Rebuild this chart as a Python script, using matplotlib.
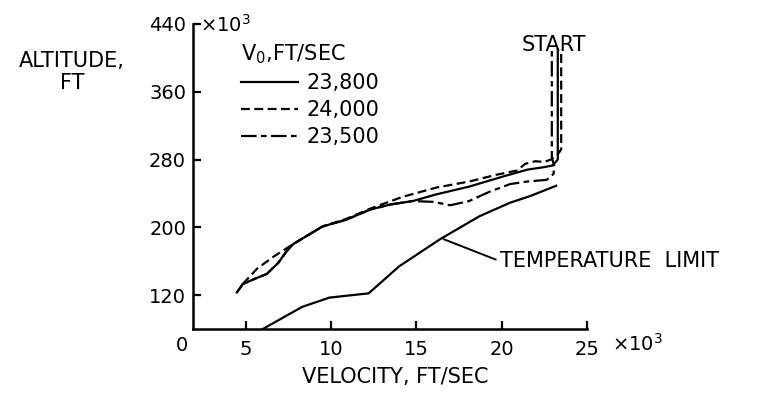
import matplotlib
matplotlib.use("Agg")
from matplotlib import pyplot as plt

# velocity in 10^3 ft/sec, altitude in 10^3 ft
v_23800 = [4.47, 4.82, 5.5, 6.23, 6.9, 7.4, 7.76, 9.5, 10.9, 12.3, 13.5, 14.8,
           16.2, 18.1, 20.1, 21.5, 22.5, 23.0, 23.3, 23.3]
h_23800 = [123, 133, 139, 145, 158, 172, 180, 201, 209, 221, 227, 231,
           239, 248, 260, 268, 271, 273, 280, 410]

v_24000 = [4.82, 5.65, 6.6, 7.76, 9.5, 10.9, 12.3, 14.2, 16.2, 18.1, 19.7,
           20.9, 21.4, 22.0, 22.5, 22.9, 23.3, 23.5, 23.5]
h_24000 = [133, 151, 165, 180, 201, 210, 222, 236, 247, 254, 262,
           267, 275, 278, 277, 280, 286, 292, 410]

v_23500 = [4.47, 4.82, 5.5, 6.23, 6.9, 7.4, 7.76, 9.5, 10.9, 12.3, 13.5, 14.8,
           16.0, 17.0, 18.1, 19.3, 20.5, 21.5, 22.65, 23.05, 23.1, 22.95, 22.95]
h_23500 = [123, 133, 139, 145, 158, 172, 180, 201, 209, 221, 227, 231,
           230, 226, 231, 242, 251, 254, 256, 263, 272, 282, 410]

v_temp = [6.0, 8.3, 9.9, 12.2, 14.0, 16.4, 18.7, 20.5, 21.7, 23.2]
h_temp = [80, 106, 117, 122, 154, 186, 213, 229, 237, 249]

x_ticks = [5, 10, 15, 20, 25]
y_ticks = [120, 200, 280, 360, 440]

fs = 14      # tick labels
fl = 15      # other lettering
plt.rcParams['font.family'] = 'DejaVu Sans'
plt.rcParams['mathtext.default'] = 'regular'

fig = plt.figure(figsize=(7.66, 3.93), dpi=100)
ax = fig.add_axes([0.252, 0.163, 0.514, 0.776])

lw = 1.6
ax.plot(v_23500, h_23500, color='black', lw=lw, dashes=(7, 2, 2.5, 2), label='23,500')
ax.plot(v_24000, h_24000, color='black', lw=lw, dashes=(4, 2), label='24,000')
ax.plot(v_23800, h_23800, color='black', lw=lw, label='23,800')
ax.plot(v_temp, h_temp, color='black', lw=lw)

ax.set_xlim(1.9, 25)
ax.set_ylim(80, 440)
ax.set_xticks(x_ticks)
ax.set_xticklabels([str(t) for t in x_ticks])
ax.set_yticks(y_ticks)
ax.set_yticklabels([str(t) for t in y_ticks])
ax.tick_params(direction='in', length=6, width=1.6, labelsize=fs, pad=5)
ax.tick_params(axis='x', pad=8)
for side in ['top', 'right']:
    ax.spines[side].set_visible(False)
for side in ['left', 'bottom']:
    ax.spines[side].set_linewidth(1.8)

handles, labels = ax.get_legend_handles_labels()
order = [2, 1, 0]
leg = ax.legend([handles[i] for i in order], [labels[i] for i in order],
                title='$V_0$,FT/SEC', loc='upper left', bbox_to_anchor=(0.095, 0.975),
                frameon=False, fontsize=fl, title_fontsize=fl, handlelength=2.75,
                handletextpad=0.4, labelspacing=0.35, borderpad=0)
leg._legend_box.align = 'left'

ax.text(23.1, 415, 'START', ha='center', va='center', fontsize=fl)
ax.annotate('TEMPERATURE  LIMIT', xy=(16.6, 186), xytext=(19.9, 160),
            ha='left', va='center', fontsize=fl,
            arrowprops=dict(arrowstyle='-', lw=1.4, color='black',
                            shrinkA=1, shrinkB=0, relpos=(0, 0.5)))

fig.text(0.094, 0.817, 'ALTITUDE,\nFT', ha='center', va='center', fontsize=fl,
         multialignment='center', linespacing=1.15)
fig.text(0.261, 0.919, r'$\times10^3$', ha='left', va='baseline', fontsize=fs)
fig.text(0.799, 0.107, r'$\times10^3$', ha='left', va='baseline', fontsize=fs)
fig.text(0.2376, 0.122, '0', ha='center', va='center', fontsize=fs)
fig.text(0.516, 0.04, 'VELOCITY, FT/SEC', ha='center', va='center', fontsize=fl)

fig.savefig('out.png', dpi=100)
